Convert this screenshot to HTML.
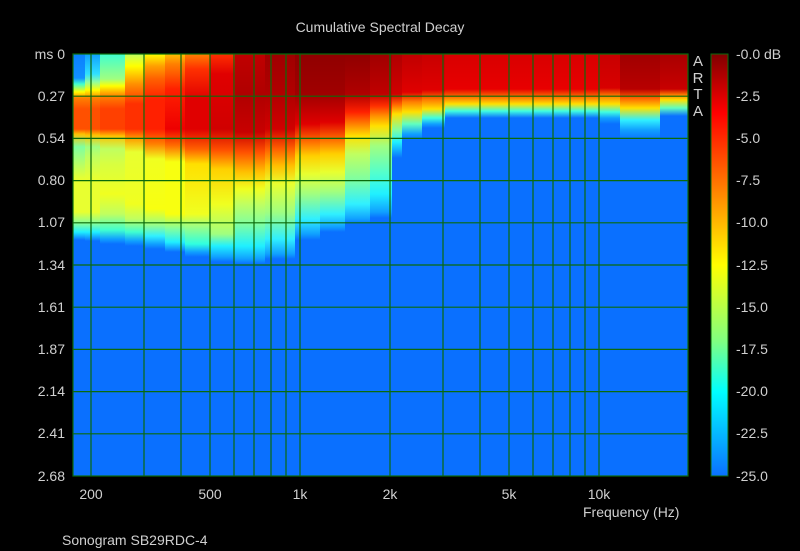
<!DOCTYPE html>
<html><head><style>
body{margin:0;background:#000;}
#w{position:relative;width:800px;height:551px;background:#000;overflow:hidden;font-family:"Liberation Sans",sans-serif;color:#d0d0d0;font-size:14px;}
.t{position:absolute;white-space:nowrap;}
.c{position:absolute;top:54px;height:422px;}
.yl{position:absolute;right:735px;text-align:right;}
.xl{position:absolute;transform:translateX(-50%);top:486px;}
.cl{position:absolute;left:736px;}
</style></head><body><div id="w">
<div class="t" style="left:0;width:760px;text-align:center;top:19px;">Cumulative Spectral Decay</div>

<div style="position:absolute;left:73px;top:54px;width:615px;height:422px;background:#0a70ff;"></div>
<div class="c" style="left:73px;width:12px;background:linear-gradient(#0a80ff 0px,#1090ff 24px,#40ffd0 30px,#ffff00 38px,#ff8000 44px,#ff5000 55px,#ff5000 75px,#ffc000 80px,#80ffa0 93px,#a0ff80 103px,#e8ff30 125px,#e8ff30 158px,#80ffa0 170px,#20f0ff 178px,#0a70ff 186px)"></div>
<div class="c" style="left:85px;width:15px;background:linear-gradient(#10a0ff 0px,#30e0ff 20px,#90ffa0 28px,#ffff00 36px,#ff8000 44px,#ff5000 55px,#ff5000 75px,#ffc000 81px,#a0ff80 93px,#c0ff60 103px,#e8ff30 125px,#e8ff30 158px,#80ffa0 170px,#20f0ff 178px,#0a70ff 187px)"></div>
<div class="c" style="left:100px;width:25px;background:linear-gradient(#40ffd0 0px,#a0ff80 25px,#ffff00 32px,#ff8000 42px,#ff4000 55px,#ff4000 75px,#ffc000 82px,#c0ff60 95px,#d8ff40 110px,#f0ff20 140px,#c0ff60 160px,#40ffd0 176px,#10a0ff 185px,#0a70ff 190px)"></div>
<div class="c" style="left:125px;width:20px;background:linear-gradient(#c0ff60 0px,#ffff00 12px,#ff9000 30px,#ff3000 50px,#ff3000 75px,#ffa000 85px,#e8ff30 98px,#f0ff20 150px,#c0ff60 165px,#40ffd0 178px,#10a0ff 187px,#0a70ff 192px)"></div>
<div class="c" style="left:145px;width:20px;background:linear-gradient(#ffff00 0px,#ffa000 12px,#ff6000 25px,#ff2000 45px,#ff2000 75px,#ff8000 90px,#f0ff20 105px,#f8ff10 155px,#a0ff80 170px,#30f0ff 182px,#10a0ff 190px,#0a70ff 195px)"></div>
<div class="c" style="left:165px;width:20px;background:linear-gradient(#ffc000 0px,#ff8000 10px,#ff2000 35px,#ee0000 75px,#ff7000 92px,#f8ff10 108px,#f8ff10 160px,#80ffa0 175px,#20f0ff 188px,#0a70ff 198px)"></div>
<div class="c" style="left:185px;width:25px;background:linear-gradient(#ff8000 0px,#ff3000 15px,#e00000 45px,#e00000 75px,#ff6000 95px,#ffe000 110px,#f0ff20 160px,#a0ff80 172px,#30ffe0 190px,#10a0ff 198px,#0a70ff 203px)"></div>
<div class="c" style="left:210px;width:25px;background:linear-gradient(#ff3000 0px,#e00000 20px,#d00000 75px,#ff5000 96px,#ffd000 115px,#f0ff20 150px,#a0ff80 180px,#20f0ff 192px,#10a0ff 203px,#0a70ff 208px)"></div>
<div class="c" style="left:235px;width:30px;background:linear-gradient(#c00000 0px,#b00000 40px,#c80000 78px,#ff5000 98px,#ffc000 118px,#f0ff20 135px,#c0ff60 150px,#80ffa0 170px,#20f0ff 192px,#10a0ff 205px,#0a70ff 210px)"></div>
<div class="c" style="left:265px;width:30px;background:linear-gradient(#a00000 0px,#b00000 40px,#d00000 75px,#ff6000 95px,#ffc000 112px,#e8ff30 130px,#a0ff80 158px,#30f0ff 185px,#10a0ff 200px,#0a70ff 205px)"></div>
<div class="c" style="left:295px;width:25px;background:linear-gradient(#900000 0px,#a00000 40px,#e00000 70px,#ff7000 88px,#ffd000 102px,#e8ff30 120px,#a0ff80 140px,#30f0ff 165px,#10a0ff 180px,#0a70ff 186px)"></div>
<div class="c" style="left:320px;width:25px;background:linear-gradient(#900000 0px,#a00000 40px,#e00000 68px,#ff7000 86px,#ffd000 100px,#e8ff30 118px,#a0ff80 138px,#30f0ff 160px,#10a0ff 173px,#0a70ff 178px)"></div>
<div class="c" style="left:345px;width:25px;background:linear-gradient(#900000 0px,#b00000 40px,#ff2000 58px,#ff8000 70px,#ffe000 82px,#c0ff60 100px,#80ffa0 125px,#30f0ff 150px,#10a0ff 165px,#0a70ff 170px)"></div>
<div class="c" style="left:370px;width:22px;background:linear-gradient(#a00000 0px,#c00000 40px,#ff3000 52px,#ff9000 62px,#ffe000 72px,#a0ff80 92px,#50ffd0 120px,#20f0ff 140px,#10a0ff 158px,#0a70ff 164px)"></div>
<div class="c" style="left:392px;width:10px;background:linear-gradient(#b00000 0px,#d00000 40px,#ff6000 50px,#ffe000 60px,#80ffa0 76px,#20f0ff 88px,#10a0ff 98px,#0a70ff 104px)"></div>
<div class="c" style="left:402px;width:20px;background:linear-gradient(#c00000 0px,#e00000 38px,#ff8000 48px,#ffe000 58px,#60ffc0 70px,#10a0ff 80px,#0a70ff 86px)"></div>
<div class="c" style="left:422px;width:23px;background:linear-gradient(#c80000 0px,#e00000 36px,#ff8000 46px,#ffe000 55px,#40ffe0 64px,#10a0ff 70px,#0a70ff 74px)"></div>
<div class="c" style="left:445px;width:155px;background:linear-gradient(#d80000 0px,#e80000 35px,#ff8000 44px,#ffe000 50px,#40ffe0 57px,#0a70ff 64px)"></div>
<div class="c" style="left:600px;width:20px;background:linear-gradient(#c80000 0px,#d80000 34px,#ff8000 42px,#ffe000 50px,#40ffe0 58px,#10a0ff 64px,#0a70ff 70px)"></div>
<div class="c" style="left:620px;width:40px;background:linear-gradient(#a00000 0px,#b80000 35px,#ff6000 44px,#ffe000 54px,#30f0ff 66px,#10a0ff 76px,#0a70ff 86px)"></div>
<div class="c" style="left:660px;width:28px;background:linear-gradient(#a80000 0px,#c80000 35px,#ff8000 41px,#ffe000 46px,#60ffc0 54px,#0a70ff 62px)"></div>

<svg style="position:absolute;left:0;top:0" width="800" height="551">
<g stroke="#0b6a0b" stroke-width="1.2" fill="none">
<rect x="73" y="54" width="615" height="422"/>
<line x1="73" x2="688" y1="96.2" y2="96.2"/><line x1="73" x2="688" y1="138.4" y2="138.4"/>
<line x1="73" x2="688" y1="180.6" y2="180.6"/><line x1="73" x2="688" y1="222.8" y2="222.8"/>
<line x1="73" x2="688" y1="265" y2="265"/><line x1="73" x2="688" y1="307.2" y2="307.2"/>
<line x1="73" x2="688" y1="349.4" y2="349.4"/><line x1="73" x2="688" y1="391.6" y2="391.6"/>
<line x1="73" x2="688" y1="433.8" y2="433.8"/>
<line x1="91" x2="91" y1="54" y2="476"/><line x1="144" x2="144" y1="54" y2="476"/>
<line x1="181" x2="181" y1="54" y2="476"/><line x1="210" x2="210" y1="54" y2="476"/>
<line x1="234" x2="234" y1="54" y2="476"/><line x1="254" x2="254" y1="54" y2="476"/>
<line x1="271" x2="271" y1="54" y2="476"/><line x1="286" x2="286" y1="54" y2="476"/>
<line x1="300" x2="300" y1="54" y2="476"/><line x1="390" x2="390" y1="54" y2="476"/>
<line x1="443" x2="443" y1="54" y2="476"/><line x1="480" x2="480" y1="54" y2="476"/>
<line x1="509" x2="509" y1="54" y2="476"/><line x1="533" x2="533" y1="54" y2="476"/>
<line x1="553" x2="553" y1="54" y2="476"/><line x1="570" x2="570" y1="54" y2="476"/>
<line x1="585" x2="585" y1="54" y2="476"/><line x1="599" x2="599" y1="54" y2="476"/>
</g>
<defs><linearGradient id="cb" x1="0" y1="0" x2="0" y2="1">
<stop offset="0" stop-color="#800000"/><stop offset="0.14" stop-color="#ff0000"/>
<stop offset="0.32" stop-color="#ff8000"/><stop offset="0.5" stop-color="#ffff00"/>
<stop offset="0.68" stop-color="#80ff80"/><stop offset="0.8" stop-color="#00ffff"/>
<stop offset="1" stop-color="#0a70ff"/></linearGradient></defs>
<rect x="711" y="54" width="17" height="422" fill="url(#cb)" stroke="#0b6a0b"/>
</svg>

<div class="t" style="left:691px;top:54px;line-height:16.5px;font-size:15px;width:14px;text-align:center;">A<br>R<br>T<br>A</div>

<div class="yl" style="top:46px">ms 0</div><div class="yl" style="top:88px">0.27</div>
<div class="yl" style="top:130px">0.54</div><div class="yl" style="top:172px">0.80</div>
<div class="yl" style="top:214px">1.07</div><div class="yl" style="top:257px">1.34</div>
<div class="yl" style="top:299px">1.61</div><div class="yl" style="top:341px">1.87</div>
<div class="yl" style="top:383px">2.14</div><div class="yl" style="top:425px">2.41</div>
<div class="yl" style="top:468px">2.68</div>

<div class="xl" style="left:91px">200</div><div class="xl" style="left:210px">500</div>
<div class="xl" style="left:300px">1k</div><div class="xl" style="left:390px">2k</div>
<div class="xl" style="left:509px">5k</div><div class="xl" style="left:599px">10k</div>
<div class="t" style="left:583px;top:504px">Frequency (Hz)</div>
<div class="t" style="left:62px;top:532px">Sonogram SB29RDC-4</div>

<div class="cl" style="top:46px">-0.0 dB</div><div class="cl" style="top:88px">-2.5</div>
<div class="cl" style="top:130px">-5.0</div><div class="cl" style="top:172px">-7.5</div>
<div class="cl" style="top:214px">-10.0</div><div class="cl" style="top:257px">-12.5</div>
<div class="cl" style="top:299px">-15.0</div><div class="cl" style="top:341px">-17.5</div>
<div class="cl" style="top:383px">-20.0</div><div class="cl" style="top:425px">-22.5</div>
<div class="cl" style="top:468px">-25.0</div>
</div></body></html>
